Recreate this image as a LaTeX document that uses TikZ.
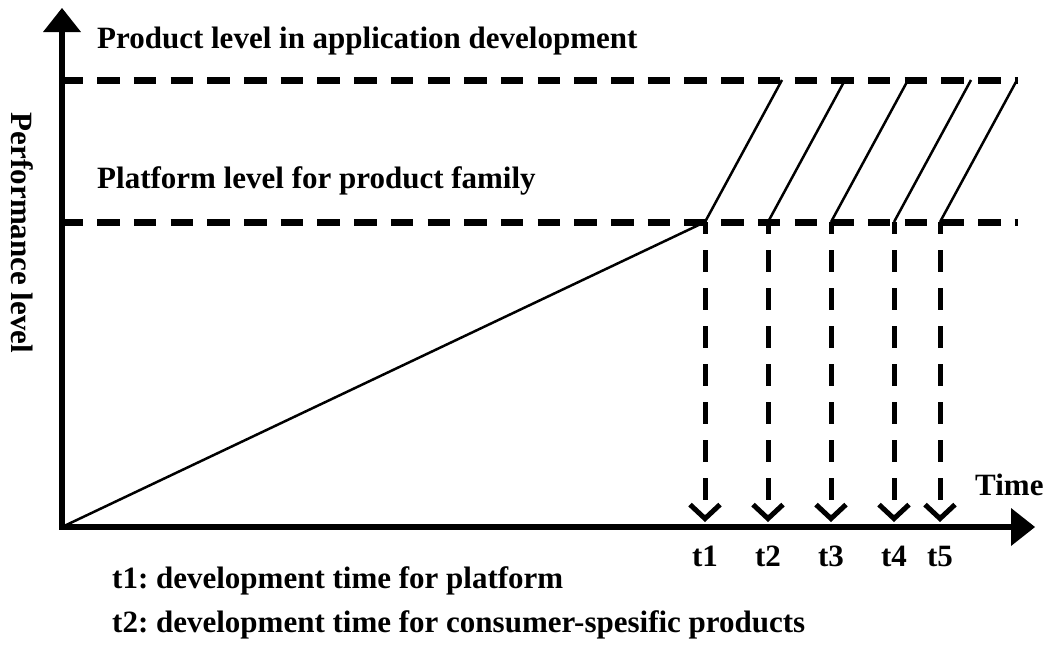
\documentclass[tikz,border=0pt]{standalone}
\usepackage{fontspec}
\setmainfont{Liberation Serif}
\usetikzlibrary{arrows.meta}
\frenchspacing
\begin{document}
\begin{tikzpicture}[x=1pt,y=-1pt,
  lbl/.style={font=\fontsize{31}{37}\selectfont\bfseries,inner sep=0pt},
  axisline/.style={line width=6pt,{Triangle[length=24pt,width=38pt,line width=0pt]}-{Triangle[length=24pt,width=38pt,line width=0pt]}},
  levelline/.style={line width=7pt,dash pattern=on 22.5pt off 14.2pt},
  rampline/.style={line width=2.5pt},
  droparrow/.style={line width=5pt,dash pattern=on 22pt off 16pt,dash phase=10pt,-{Straight Barb[length=14pt,width=30pt]}}]
\useasboundingbox (0,0) rectangle (1045,646);
% coordinates
\coordinate (O) at (62,527);
\coordinate (Ytip) at (62,8);
\coordinate (Xtip) at (1035,527);
\coordinate (TopL) at (60.5,80);
\coordinate (TopR) at (1018,80);
\coordinate (BotL) at (60.5,222);
\coordinate (BotR) at (1018,222);
\foreach \i/\b/\t in {1/705/782,2/768/845,3/831/908,4/894/971,5/940/1017}{
  \coordinate (B\i) at (\b,222);
  \coordinate (U\i) at (\t,80);
  \coordinate (D\i) at (\b,522);
}
% level lines
\draw[levelline] (TopL) -- (TopR);
\draw[levelline] (BotL) -- (BotR);
% ramps
\draw[rampline] (O) -- (B1);
\foreach \i in {1,...,5}{
  \draw[rampline] (B\i) -- (U\i);
  \draw[droparrow] (B\i) -- (D\i);
}
% axes
\draw[axisline] (Ytip) -- (O) -- (Xtip);
% labels
\node[lbl,anchor=base west] (prodlbl) at (97,48) {Product level in application development};
\node[lbl,anchor=base west] (platlbl) at (97,188) {Platform level for product family};
\node[lbl,anchor=base west] (timelbl) at (975,495) {Time};
\node[lbl,rotate=-90] (perflbl) at (22,233) {Performance level};
\foreach \i/\b in {1/705,2/768,3/831,4/894,5/940}{
  \node[lbl,anchor=base] (tl\i) at (\b,566) {t\i};
}
\node[lbl,anchor=base west] (note1) at (112,588) {t1: development time for platform};
\node[lbl,anchor=base west] (note2) at (112,632) {t2: development time for consumer-spesific products};
\end{tikzpicture}
\end{document}
